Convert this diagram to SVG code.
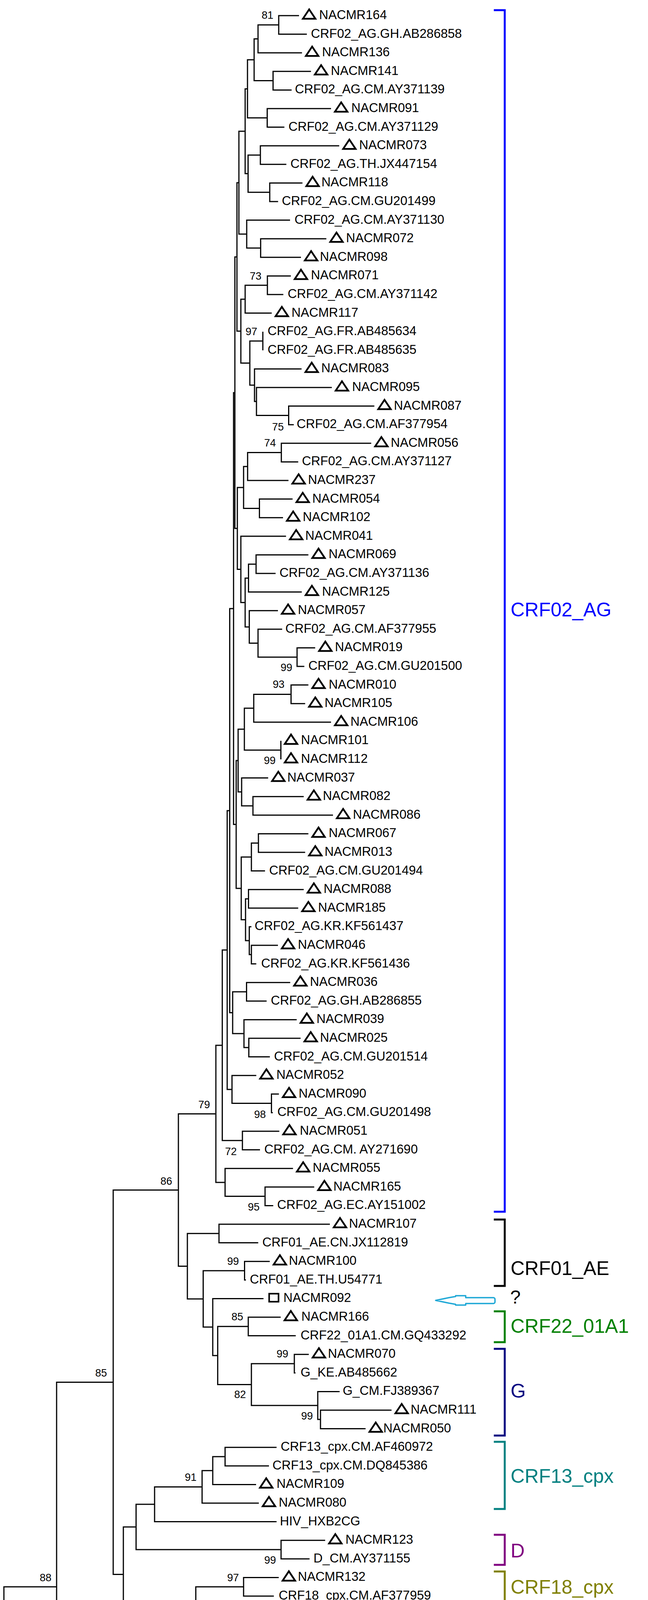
<svg xmlns="http://www.w3.org/2000/svg" width="1660" height="4825" viewBox="0 0 1660 4825">
<style>
.e{fill:none;stroke:#000;stroke-width:3;stroke-linejoin:miter}
.t{font-family:"Liberation Sans",Arial,sans-serif;font-size:32.5px;fill:#000}
.b{font-family:"Liberation Sans",Arial,sans-serif;font-size:27px;fill:#000}
.k{fill:none;stroke-width:5;stroke-linejoin:miter}
.g{font-family:"Liberation Sans",Arial,sans-serif;font-size:50px}
</style>
<defs>
<path id="tri" d="M10,8 L42,8 L26,-16 Z" fill="none" stroke="#000" stroke-width="4.5" stroke-linejoin="miter"/>
</defs>
<rect width="1660" height="4825" fill="#fff"/>
<g id="connectors" class="e">
<path d="M766,40H714V87.6H786"/>
<path d="M714,63.8H661V135.2H773.6"/>
<path d="M796.6,182.8H699.5V230.4H747"/>
<path d="M661,99.5H651V206.6H699.5"/>
<path d="M848,278H684.5V325.6H728.5"/>
<path d="M651,153.1H634V301.8H684.5"/>
<path d="M869,373.2H667V420.8H733.5"/>
<path d="M774.8,468.4H691V516H712.4"/>
<path d="M667,397H635.5V492.2H691"/>
<path d="M634,227.4H628V444.6H635.5"/>
<path d="M836,611.2H667.7V658.8H771"/>
<path d="M743,563.6H632V635H667.7"/>
<path d="M628,336H612V599.3H632"/>
<path d="M745,706.4H685V754H725.8"/>
<path d="M685,730.2H628V801.6H696"/>
<path d="M673.3,849.2V896.8"/>
<path d="M959,1039.6H739.5V1087.2H752.6"/>
<path d="M850,992H657V1063.4H739.5"/>
<path d="M772.5,944.4H652V1027.7H657"/>
<path d="M673.3,873H640V986.1H652"/>
<path d="M628,765.9H617V929.5H640"/>
<path d="M612,467.7H607V847.7H617"/>
<path d="M951,1134.8H720.7V1182.4H764"/>
<path d="M720.7,1158.6H634.3V1230H739"/>
<path d="M749.5,1277.6H664.6V1325.2H725"/>
<path d="M634.3,1194.3H624V1301.4H664.6"/>
<path d="M790,1420.4H656V1468H706"/>
<path d="M656,1444.2H636.6V1515.6H773"/>
<path d="M807.4,1658.4H761V1706H779.6"/>
<path d="M722.8,1610.8H661V1682.2H761"/>
<path d="M712,1563.2H638.6V1646.5H661"/>
<path d="M636.6,1479.9H628V1604.9H638.6"/>
<path d="M732.7,1372.8H617V1542.4H628"/>
<path d="M624,1247.9H608V1457.6H617"/>
<path d="M607,657.7H601.7V1352.7H608"/>
<path d="M790,1753.6H745.6V1801.2H781.7"/>
<path d="M745.6,1777.4H650V1848.8H848"/>
<path d="M719.5,1896.4V1944"/>
<path d="M650,1813.1H626V1920.2H719.5"/>
<path d="M778,2039.2H648V2086.8H853"/>
<path d="M687,1991.6H619V2063H648"/>
<path d="M626,1866.7H610V2027.3H619"/>
<path d="M790,2134.4H662V2182H781.7"/>
<path d="M662,2158.2H644V2229.6H678.9"/>
<path d="M778,2277.2H636.6V2324.8H764"/>
<path d="M712,2420H644V2467.6H656.5"/>
<path d="M644,2372.4H638.6V2443.8H644"/>
<path d="M636.6,2301H629V2408.1H638.6"/>
<path d="M644,2193.9H618V2354.6H629"/>
<path d="M610,1947H605V2274.2H618"/>
<path d="M601.7,1005.2H598.3V2110.6H605"/>
<path d="M743.5,2515.2H631.6V2562.8H683"/>
<path d="M770,2658H637.4V2705.6H691.3"/>
<path d="M760,2610.4H625V2681.8H637.4"/>
<path d="M631.6,2539H596V2646.1H625"/>
<path d="M598.3,1557.9H588.5V2592.6H596"/>
<path d="M714.5,2800.8H695.4V2848.4H698.8"/>
<path d="M656.5,2753.2H594.3V2824.6H695.4"/>
<path d="M588.5,2075.2H582V2788.9H594.3"/>
<path d="M715.5,2896H621V2943.6H666"/>
<path d="M582,2432.1H569.4V2919.8H621"/>
<path d="M805,3038.8H679V3086.4H700"/>
<path d="M750.6,2991.2H576.6V3062.6H679"/>
<path d="M569.4,2675.9H553V3026.9H576.6"/>
<path d="M845,3134H561V3181.6H661.5"/>
<path d="M691,3229.2H626.5V3276.8H630"/>
<path d="M719,3372H636V3419.6H757.6"/>
<path d="M791,3467.2H754V3514.8H757"/>
<path d="M1003,3610H821V3657.6H936.5"/>
<path d="M870,3562.4H814V3633.8H821"/>
<path d="M754,3491H644V3598.1H814"/>
<path d="M636,3395.8H557.7V3544.6H644"/>
<path d="M675,3324.4H545V3470.2H557.7"/>
<path d="M626.5,3253H520.5V3397.3H545"/>
<path d="M561,3157.8H480V3325.2H520.5"/>
<path d="M553,2851.4H457V3241.5H480"/>
<path d="M708.5,3705.2H576.6V3752.8H689"/>
<path d="M576.6,3729H545V3800.4H656"/>
<path d="M545,3764.7H517.7V3848H663"/>
<path d="M517.7,3806.4H396V3895.6H708.5"/>
<path d="M833,3943.2H720V3990.8H793"/>
<path d="M396,3851H348.6V3967H720"/>
<path d="M714,4038.4H624V4086H701.5"/>
<path d="M694.5,4133.6H656V4181.2H740"/>
<path d="M781,4228.8H643.7V4276.4H707"/>
<path d="M728,4324H611V4371.6H760"/>
<path d="M831,4466.8H681V4514.4H760"/>
<path d="M817,4419.2H601V4490.6H681"/>
<path d="M611,4347.8H580V4454.9H601"/>
<path d="M643.7,4252.6H556V4401.4H580"/>
<path d="M656,4157.4H524V4327H556"/>
<path d="M624,4062.2H501.6V4242.2H524"/>
<path d="M348.6,3909H316V4152.2H501.6"/>
<path d="M457,3046.5H290V4030.6H316"/>
<path d="M323,4562H281V4609.6H318"/>
<path d="M290,3538.5H145V4585.8H281"/>
<path d="M1000,4657.2H69V4704.8H619"/>
<path d="M145,4062.2H10V4681H69"/>
</g>
<g id="leaves">
<g id="n1"><use href="#tri" x="766" y="40"/><text class="t" x="817.6" y="49">NACMR164</text></g>
<g id="n2"><text class="t" x="796.6" y="96.6">CRF02_AG.GH.AB286858</text></g>
<g id="n3"><use href="#tri" x="773.6" y="135.2"/><text class="t" x="825" y="144.2">NACMR136</text></g>
<g id="n4"><use href="#tri" x="796.6" y="182.8"/><text class="t" x="847.5" y="191.8">NACMR141</text></g>
<g id="n5"><text class="t" x="755.6" y="239.4">CRF02_AG.CM.AY371139</text></g>
<g id="n6"><use href="#tri" x="848" y="278"/><text class="t" x="900" y="287">NACMR091</text></g>
<g id="n7"><text class="t" x="739" y="334.6">CRF02_AG.CM.AY371129</text></g>
<g id="n8"><use href="#tri" x="869" y="373.2"/><text class="t" x="920" y="382.2">NACMR073</text></g>
<g id="n9"><text class="t" x="744" y="429.8">CRF02_AG.TH.JX447154</text></g>
<g id="n10"><use href="#tri" x="774.8" y="468.4"/><text class="t" x="823.4" y="477.4">NACMR118</text></g>
<g id="n11"><text class="t" x="722" y="525">CRF02_AG.CM.GU201499</text></g>
<g id="n12"><text class="t" x="754.5" y="572.6">CRF02_AG.CM.AY371130</text></g>
<g id="n13"><use href="#tri" x="836" y="611.2"/><text class="t" x="886.5" y="620.2">NACMR072</text></g>
<g id="n14"><use href="#tri" x="771" y="658.8"/><text class="t" x="819.6" y="667.8">NACMR098</text></g>
<g id="n15"><use href="#tri" x="745" y="706.4"/><text class="t" x="796.6" y="715.4">NACMR071</text></g>
<g id="n16"><text class="t" x="737" y="763">CRF02_AG.CM.AY371142</text></g>
<g id="n17"><use href="#tri" x="696" y="801.6"/><text class="t" x="746.8" y="810.6">NACMR117</text></g>
<g id="n18"><text class="t" x="685.6" y="858.2">CRF02_AG.FR.AB485634</text></g>
<g id="n19"><text class="t" x="685.6" y="905.8">CRF02_AG.FR.AB485635</text></g>
<g id="n20"><use href="#tri" x="772.5" y="944.4"/><text class="t" x="823" y="953.4">NACMR083</text></g>
<g id="n21"><use href="#tri" x="850" y="992"/><text class="t" x="902" y="1001">NACMR095</text></g>
<g id="n22"><use href="#tri" x="959" y="1039.6"/><text class="t" x="1009" y="1048.6">NACMR087</text></g>
<g id="n23"><text class="t" x="760" y="1096.2">CRF02_AG.CM.AF377954</text></g>
<g id="n24"><use href="#tri" x="951" y="1134.8"/><text class="t" x="1001" y="1143.8">NACMR056</text></g>
<g id="n25"><text class="t" x="773.6" y="1191.4">CRF02_AG.CM.AY371127</text></g>
<g id="n26"><use href="#tri" x="739" y="1230"/><text class="t" x="789" y="1239">NACMR237</text></g>
<g id="n27"><use href="#tri" x="749.5" y="1277.6"/><text class="t" x="800" y="1286.6">NACMR054</text></g>
<g id="n28"><use href="#tri" x="725" y="1325.2"/><text class="t" x="775.5" y="1334.2">NACMR102</text></g>
<g id="n29"><use href="#tri" x="732.7" y="1372.8"/><text class="t" x="782" y="1381.8">NACMR041</text></g>
<g id="n30"><use href="#tri" x="790" y="1420.4"/><text class="t" x="841.8" y="1429.4">NACMR069</text></g>
<g id="n31"><text class="t" x="716" y="1477">CRF02_AG.CM.AY371136</text></g>
<g id="n32"><use href="#tri" x="773" y="1515.6"/><text class="t" x="825" y="1524.6">NACMR125</text></g>
<g id="n33"><use href="#tri" x="712" y="1563.2"/><text class="t" x="763" y="1572.2">NACMR057</text></g>
<g id="n34"><text class="t" x="731" y="1619.8">CRF02_AG.CM.AF377955</text></g>
<g id="n35"><use href="#tri" x="807.4" y="1658.4"/><text class="t" x="858" y="1667.4">NACMR019</text></g>
<g id="n36"><text class="t" x="790" y="1715">CRF02_AG.CM.GU201500</text></g>
<g id="n37"><use href="#tri" x="790" y="1753.6"/><text class="t" x="842" y="1762.6">NACMR010</text></g>
<g id="n38"><use href="#tri" x="781.7" y="1801.2"/><text class="t" x="831.4" y="1810.2">NACMR105</text></g>
<g id="n39"><use href="#tri" x="848" y="1848.8"/><text class="t" x="897.8" y="1857.8">NACMR106</text></g>
<g id="n40"><use href="#tri" x="719.5" y="1896.4"/><text class="t" x="771" y="1905.4">NACMR101</text></g>
<g id="n41"><use href="#tri" x="719.5" y="1944"/><text class="t" x="771" y="1953">NACMR112</text></g>
<g id="n42"><use href="#tri" x="687" y="1991.6"/><text class="t" x="736" y="2000.6">NACMR037</text></g>
<g id="n43"><use href="#tri" x="778" y="2039.2"/><text class="t" x="827" y="2048.2">NACMR082</text></g>
<g id="n44"><use href="#tri" x="853" y="2086.8"/><text class="t" x="904" y="2095.8">NACMR086</text></g>
<g id="n45"><use href="#tri" x="790" y="2134.4"/><text class="t" x="842" y="2143.4">NACMR067</text></g>
<g id="n46"><use href="#tri" x="781.7" y="2182"/><text class="t" x="831.4" y="2191">NACMR013</text></g>
<g id="n47"><text class="t" x="689.6" y="2238.6">CRF02_AG.CM.GU201494</text></g>
<g id="n48"><use href="#tri" x="778" y="2277.2"/><text class="t" x="829" y="2286.2">NACMR088</text></g>
<g id="n49"><use href="#tri" x="764" y="2324.8"/><text class="t" x="814.8" y="2333.8">NACMR185</text></g>
<g id="n50"><text class="t" x="652.3" y="2381.4">CRF02_AG.KR.KF561437</text></g>
<g id="n51"><use href="#tri" x="712" y="2420"/><text class="t" x="763" y="2429">NACMR046</text></g>
<g id="n52"><text class="t" x="669" y="2476.6">CRF02_AG.KR.KF561436</text></g>
<g id="n53"><use href="#tri" x="743.5" y="2515.2"/><text class="t" x="794" y="2524.2">NACMR036</text></g>
<g id="n54"><text class="t" x="693.8" y="2571.8">CRF02_AG.GH.AB286855</text></g>
<g id="n55"><use href="#tri" x="760" y="2610.4"/><text class="t" x="810.7" y="2619.4">NACMR039</text></g>
<g id="n56"><use href="#tri" x="770" y="2658"/><text class="t" x="819.8" y="2667">NACMR025</text></g>
<g id="n57"><text class="t" x="702" y="2714.6">CRF02_AG.CM.GU201514</text></g>
<g id="n58"><use href="#tri" x="656.5" y="2753.2"/><text class="t" x="707.9" y="2762.2">NACMR052</text></g>
<g id="n59"><use href="#tri" x="714.5" y="2800.8"/><text class="t" x="765" y="2809.8">NACMR090</text></g>
<g id="n60"><text class="t" x="710.4" y="2857.4">CRF02_AG.CM.GU201498</text></g>
<g id="n61"><use href="#tri" x="715.5" y="2896"/><text class="t" x="768" y="2905">NACMR051</text></g>
<g id="n62"><text class="t" x="677" y="2952.6">CRF02_AG.CM. AY271690</text></g>
<g id="n63"><use href="#tri" x="750.6" y="2991.2"/><text class="t" x="801" y="3000.2">NACMR055</text></g>
<g id="n64"><use href="#tri" x="805" y="3038.8"/><text class="t" x="854" y="3047.8">NACMR165</text></g>
<g id="n65"><text class="t" x="710" y="3095.4">CRF02_AG.EC.AY151002</text></g>
<g id="n66"><use href="#tri" x="845" y="3134"/><text class="t" x="894" y="3143">NACMR107</text></g>
<g id="n67"><text class="t" x="672" y="3190.6">CRF01_AE.CN.JX112819</text></g>
<g id="n68"><use href="#tri" x="691" y="3229.2"/><text class="t" x="740" y="3238.2">NACMR100</text></g>
<g id="n69"><text class="t" x="640" y="3285.8">CRF01_AE.TH.U54771</text></g>
<g id="n70"><rect x="689.5" y="3311.8" width="24" height="20.6" fill="none" stroke="#000" stroke-width="4"/><text class="t" x="726" y="3333.4">NACMR092</text></g>
<g id="n71"><use href="#tri" x="719" y="3372"/><text class="t" x="772" y="3381">NACMR166</text></g>
<g id="n72"><text class="t" x="770" y="3428.6">CRF22_01A1.CM.GQ433292</text></g>
<g id="n73"><use href="#tri" x="791" y="3467.2"/><text class="t" x="840" y="3476.2">NACMR070</text></g>
<g id="n74"><text class="t" x="770" y="3523.8">G_KE.AB485662</text></g>
<g id="n75"><text class="t" x="878" y="3571.4">G_CM.FJ389367</text></g>
<g id="n76"><use href="#tri" x="1003" y="3610"/><text class="t" x="1052" y="3619">NACMR111</text></g>
<g id="n77"><use href="#tri" x="936.5" y="3657.6"/><text class="t" x="982" y="3666.6">NACMR050</text></g>
<g id="n78"><text class="t" x="719" y="3714.2">CRF13_cpx.CM.AF460972</text></g>
<g id="n79"><text class="t" x="698" y="3761.8">CRF13_cpx.CM.DQ845386</text></g>
<g id="n80"><use href="#tri" x="656" y="3800.4"/><text class="t" x="708.5" y="3809.4">NACMR109</text></g>
<g id="n81"><use href="#tri" x="663" y="3848"/><text class="t" x="714" y="3857">NACMR080</text></g>
<g id="n82"><text class="t" x="717" y="3904.6">HIV_HXB2CG</text></g>
<g id="n83"><use href="#tri" x="833" y="3943.2"/><text class="t" x="885" y="3952.2">NACMR123</text></g>
<g id="n84"><text class="t" x="803" y="3999.8">D_CM.AY371155</text></g>
<g id="n85"><use href="#tri" x="714" y="4038.4"/><text class="t" x="763" y="4047.4">NACMR132</text></g>
<g id="n86"><text class="t" x="714" y="4095">CRF18_cpx.CM.AF377959</text></g>
<g id="n87"><use href="#tri" x="694.5" y="4133.6"/><text class="t" x="743.6" y="4142.6">NACMR113</text></g>
<g id="n88"><text class="t" x="750.6" y="4190.2">CRF11_cpx.CM.AF492623</text></g>
<g id="n89"><use href="#tri" x="781" y="4228.8"/><text class="t" x="834" y="4237.8">NACMR104</text></g>
<g id="n90"><text class="t" x="720" y="4285.4">CRF11_cpx.CM.AY371153</text></g>
<g id="n91"><use href="#tri" x="728" y="4324"/><text class="t" x="783" y="4333">NACMR120</text></g>
<g id="n92"><text class="t" x="771" y="4380.6">CRF11_cpx.CM.KP718934</text></g>
<g id="n93"><use href="#tri" x="817" y="4419.2"/><text class="t" x="868" y="4428.2">NACMR089</text></g>
<g id="n94"><use href="#tri" x="831" y="4466.8"/><text class="t" x="881" y="4475.8">NACMR008</text></g>
<g id="n95"><text class="t" x="770" y="4523.4">CRF11_cpx.CM.AF492624</text></g>
<g id="n96"><use href="#tri" x="323" y="4562"/><text class="t" x="376" y="4571">NACMR183</text></g>
<g id="n97"><text class="t" x="328" y="4618.6">CRF37_cpx.CM.EF116594</text></g>
<g id="n98"><text class="t" x="1011" y="4666.2">O_AB485666</text></g>
<g id="n99"><text class="t" x="628" y="4713.8">SIVcpz_AF115393</text></g>
</g>
<g id="support" class="b">
<text x="670.3" y="48.3">81</text>
<text x="639.7" y="716">73</text>
<text x="629" y="858">97</text>
<text x="697" y="1101.7">75</text>
<text x="676.8" y="1143.3">74</text>
<text x="718.7" y="1718">99</text>
<text x="698.8" y="1761">93</text>
<text x="676" y="1955.7">99</text>
<text x="508" y="2836.8">79</text>
<text x="651" y="2861.7">98</text>
<text x="576.6" y="2957">72</text>
<text x="635" y="3099">95</text>
<text x="411" y="3033">86</text>
<text x="582" y="3238">99</text>
<text x="593" y="3380">85</text>
<text x="708.5" y="3475">99</text>
<text x="244" y="3524">85</text>
<text x="600" y="3579">82</text>
<text x="771.6" y="3633.6">99</text>
<text x="473.5" y="3791">91</text>
<text x="677" y="4003">99</text>
<text x="582" y="4048">97</text>
<text x="101.7" y="4048">88</text>
<text x="611.7" y="4143.8">81</text>
<text x="457.4" y="4188.5">95</text>
<text x="598" y="4239">80</text>
<text x="635" y="4527.6">79</text>
<text x="235" y="4623">96</text>
</g>
<g id="groups">
<g id="g-crf02"><path class="k" stroke="#0000ff" d="M1265,26H1293V3102H1265"/><text class="g" fill="#0000ff" x="1308" y="1578">CRF02_AG</text></g>
<g id="g-crf01"><path class="k" stroke="#000" d="M1265,3122H1293V3292H1265"/><text class="g" fill="#000" x="1308" y="3264">CRF01_AE</text></g>
<g id="g-crf22"><path class="k" stroke="#008000" d="M1265,3357H1293V3436H1265"/><text class="g" fill="#008000" x="1308" y="3412">CRF22_01A1</text></g>
<g id="g-g"><path class="k" stroke="#000080" d="M1265,3453H1293V3675H1265"/><text class="g" fill="#000080" x="1308" y="3578">G</text></g>
<g id="g-crf13"><path class="k" stroke="#008080" d="M1265,3691H1293V3863H1265"/><text class="g" fill="#008080" x="1308" y="3796">CRF13_cpx</text></g>
<g id="g-d"><path class="k" stroke="#800080" d="M1265,3929H1293V4006H1265"/><text class="g" fill="#800080" x="1308" y="3987">D</text></g>
<g id="g-crf18"><path class="k" stroke="#808000" d="M1265,4023H1293V4102H1265"/><text class="g" fill="#808000" x="1308" y="4080">CRF18_cpx</text></g>
<g id="g-crf11"><path class="k" stroke="#ff0000" d="M1265,4119H1293V4530H1265"/><text class="g" fill="#ff0000" x="1308" y="4341">CRF11_cpx</text></g>
<g id="g-crf37"><path class="k" stroke="#ff00ff" d="M1265,4547H1293V4626H1265"/><text class="g" fill="#ff00ff" x="1308" y="4603">CRF37_cpx</text></g>
<g id="g-o"><path class="k" stroke="#800000" d="M1265,4642H1293V4722H1265"/><text class="g" fill="#800000" x="1308" y="4701">O &amp; SIVcpz</text></g>
</g>
<g id="query">
<path d="M1116,3329L1150,3322L1167,3319L1167,3317L1193,3317L1193,3322L1264,3322A4,4 0 0 1 1268,3326L1268,3333A4,4 0 0 1 1264,3337L1193,3337L1193,3341L1167,3341L1167,3339L1150,3336Z" fill="#fff" stroke="#1fa8d6" stroke-width="3.5" stroke-linejoin="round"/>
<text x="1307" y="3337" font-family="Liberation Sans, Arial, sans-serif" font-size="48" fill="#000">?</text>
</g>
<g id="scale">
<path d="M114,4788H197M114,4780V4796M197,4780V4796" fill="none" stroke="#000" stroke-width="2.5"/>
<text x="155.5" y="4816" text-anchor="middle" font-family="Liberation Sans, Arial, sans-serif" font-size="21" fill="#000">0.02</text>
</g>
</svg>
